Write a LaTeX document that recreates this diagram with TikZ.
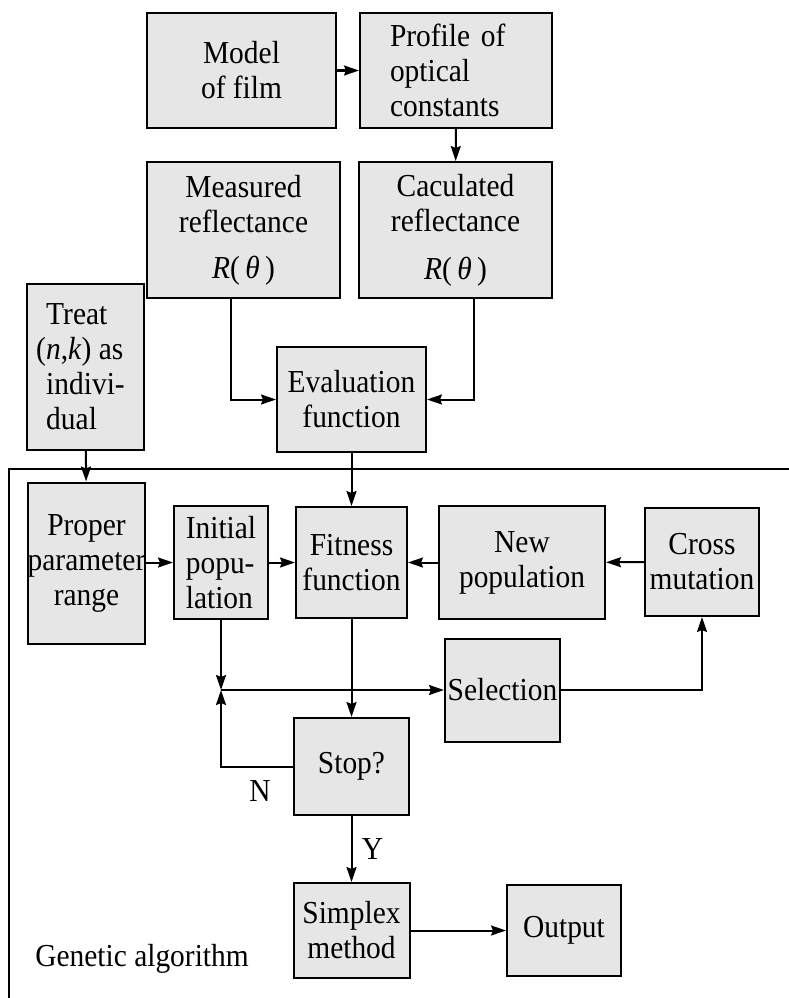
\documentclass[tikz,border=0pt]{standalone}
\usepackage{fontspec}
\setmainfont{Liberation Serif}[FakeStretch=0.92]
\usepackage{tikz}
\usepackage{xcolor}
\usetikzlibrary{arrows.meta}
\definecolor{boxgray}{HTML}{E6E6E6}

\begin{document}
\begin{tikzpicture}[x=1pt, y=-1pt, >={Stealth[length=15pt, width=10pt, inset=2pt]}, line width=2pt,
    blk/.style={draw, fill=boxgray, inner xsep=0pt, inner ysep=2pt, align=center, font=\fontsize{32}{35}\selectfont},
    txt/.style={font=\fontsize{32}{35}\selectfont}]
    \useasboundingbox (0,0) rectangle (789,998);

    \node[blk, minimum width=189pt, minimum height=115pt] (model) at (241.5,70.5) {Model\\of film};
    \node[blk, minimum width=192pt, minimum height=115pt, text width=132pt, align=left] (profile) at (456,70.5) {Profile of\\optical\\constants};
    \node[blk, minimum width=193pt, minimum height=136pt] (meas) at (243.5,230) {Measured\\reflectance\\[11pt]\textit{R}(\,\textit{θ}\,)};
    \node[blk, minimum width=193pt, minimum height=136pt] (calc) at (455.5,230) {Caculated\\reflectance\\[13pt]\textit{R}(\,\textit{θ}\,)};
    \node[blk, minimum width=117pt, minimum height=166pt, align=left] (treat) at (85.5,367) {Treat\\\hspace*{-10pt}(\textit{n},\textit{k}) as\\indivi-\\dual};
    \node[blk, minimum width=149pt, minimum height=105pt] (eval) at (351.5,399.5) {Evaluation\\function};

    \draw (9,1020) |- (820,469);

    \node[blk, minimum width=117pt, minimum height=161pt] (proper) at (86.5,563) {Proper\\parameter\\range};
    \node[blk, minimum width=94pt, minimum height=113pt, align=left] (init) at (221,562.5) {Initial\\popu-\\lation};
    \node[blk, minimum width=111pt, minimum height=111pt] (fit) at (351.5,562.5) {Fitness\\function};
    \node[blk, minimum width=166pt, minimum height=113pt] (newpop) at (522,562.5) {New\\population};
    \node[blk, minimum width=114pt, minimum height=108pt] (cross) at (702,562) {Cross\\mutation};
    \node[blk, minimum width=115pt, minimum height=103pt] (sel) at (502.5,690) {Selection};
    \node[blk, minimum width=115pt, minimum height=97pt] (stop) at (351.5,766.5) {Stop?};
    \node[blk, minimum width=116pt, minimum height=95pt] (simplex) at (351.5,930.5) {Simplex\\method};
    \node[blk, minimum width=114pt, minimum height=91pt] (output) at (564,930.5) {Output};
    \node[txt] (nlbl) at (260,791) {N};
    \node[txt, anchor=west] (galbl) at (31,959) {Genetic algorithm};
    \coordinate (j) at (221,690);

    \draw[->] (model) -- (profile);
    \draw[->] (profile) -- (calc);
    \draw[->] ([xshift=-12.5pt]meas.south) |- (eval.west);
    \draw[->] ([xshift=18.5pt]calc.south) |- (eval.east);
    \draw[->] (treat) -- (proper);
    \draw[->] (eval) -- (fit);
    \draw[->] (proper.east |- init) -- (init.west);
    \draw[->] (init) -- (fit);
    \draw[->] (newpop) -- (fit);
    \draw[->] (cross) -- (newpop);
    \draw[->] (init) -- (j);
    \draw[->] (j) -- (sel);
    \draw[->] (stop.west) -| (j);
    \draw[->] (fit) -- (stop);
    \draw[->] (sel.east) -| (cross.south);
    \draw[->] (stop) -- node[txt, right=6pt]{Y} (simplex);
    \draw[->] (simplex) -- (output);
\end{tikzpicture}
\end{document}
